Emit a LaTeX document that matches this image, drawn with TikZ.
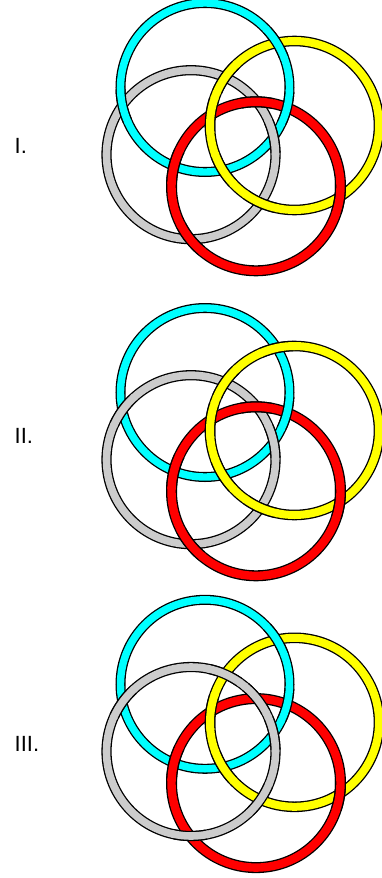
\documentclass[tikz,border=0pt]{standalone}
\usepackage{fontspec}
\setmainfont{Liberation Sans}
\usetikzlibrary{calc}
\definecolor{rcyan}{HTML}{00FFFF}
\definecolor{rgray}{HTML}{CCCCCC}
\definecolor{ryellow}{HTML}{FFFF00}
\definecolor{rred}{HTML}{FF0000}
\newcommand\Rr{84.5}
% ring: cx, cy (pixel, y down), colour, total width, colour width
\newcommand\drawring[5]{%
  \draw[line width=#4pt, black] (#1,-#2) circle[radius=\Rr];
  \draw[line width=#5pt, draw=#3] (#1,-#2) circle[radius=\Rr];}
% over-arc: the ring is redrawn around the crossing at angle #6 (pixel orientation)
\newcommand\overarc[6]{%
  \pgfmathsetmacro\aS{-(#6)-11}\pgfmathsetmacro\aE{-(#6)+11}%
  \pgfmathsetmacro\bS{-(#6)-12.5}\pgfmathsetmacro\bE{-(#6)+12.5}%
  \draw[line width=#4pt, black] ($(#1,-#2)+(\aS:\Rr)$) arc[start angle=\aS, end angle=\aE, radius=\Rr];
  \draw[line width=#5pt, draw=#3] ($(#1,-#2)+(\bS:\Rr)$) arc[start angle=\bS, end angle=\bE, radius=\Rr];}
\newcommand\ringC{\drawring{205}{87.5}{rcyan}{10}{7.4}}
\newcommand\ringG{\drawring{191}{154.7}{rgray}{10.2}{7.6}}
\newcommand\ringY{\drawring{294.5}{125.5}{ryellow}{10.6}{8}}
\newcommand\ringR{\drawring{256}{186.3}{rred}{11}{8.4}}
\newcommand\overC[1]{\overarc{205}{87.5}{rcyan}{10}{7.4}{#1}}
\newcommand\overG[1]{\overarc{191}{154.7}{rgray}{10.2}{7.6}{#1}}
\newcommand\overY[1]{\overarc{294.5}{125.5}{ryellow}{10.6}{8}{#1}}
\newcommand\overR[1]{\overarc{256}{186.3}{rred}{11}{8.4}{#1}}
\newcommand\allrings{\ringC\ringG\ringY\ringR}
\begin{document}
\begin{tikzpicture}[x=1pt,y=1pt,
  lab/.style={anchor=base west, inner sep=0pt, font=\fontsize{22}{22}\selectfont}]
\useasboundingbox (0,0) rectangle (381,-878);
% labels
\node[lab] (l1) at (14.5,-153) {I.};
\node[lab] (l2) at (14.5,-443) {II.};
\node[lab] (l3) at (14.5,-751) {III.};
% ---- panel I
\begin{scope}
\allrings
\overC{167.8}  % C-G left
\overG{-12.2}  % C-G right
\overC{-31.9}  % C-Y top
\overY{148.1}  % C-Y bottom
\overC{13.8}   % C-R right
\overR{-166.2} % C-R left
\overY{-145.3} % G-Y top
\overY{113.8}  % G-Y bottom
\overR{-89.4}  % G-R top
\overR{141.25} % G-R bottom
\overR{7.1}    % Y-R right
\overY{-172.9} % Y-R left
\end{scope}
% ---- panel II
\begin{scope}[yshift=-305pt]
\allrings
\overG{-144.3} % C-G left
\overG{-12.2}  % C-G right
\overY{-102.1} % C-Y top
\overY{148.1}  % C-Y bottom
\overC{13.8}   % C-R right
\overR{-166.2} % C-R left
\overY{-145.3} % G-Y top
\overY{113.8}  % G-Y bottom
\overR{-89.4}  % G-R top
\overR{141.25} % G-R bottom
\overR{7.1}    % Y-R right
\overY{-172.9} % Y-R left
\end{scope}
% ---- panel III
\begin{scope}[yshift=-596.8pt]
\allrings
\overG{-144.3} % C-G left
\overG{-12.2}  % C-G right
\overC{-31.9}  % C-Y top
\overY{148.1}  % C-Y bottom
\overC{13.8}   % C-R right
\overR{-166.2} % C-R left
\overG{-66.2}  % G-Y top
\overG{34.7}   % G-Y bottom
\overG{-38.75} % G-R top
\overG{90.6}   % G-R bottom
\overR{7.1}    % Y-R right
\overY{-172.9} % Y-R left
\end{scope}
\end{tikzpicture}
\end{document}
